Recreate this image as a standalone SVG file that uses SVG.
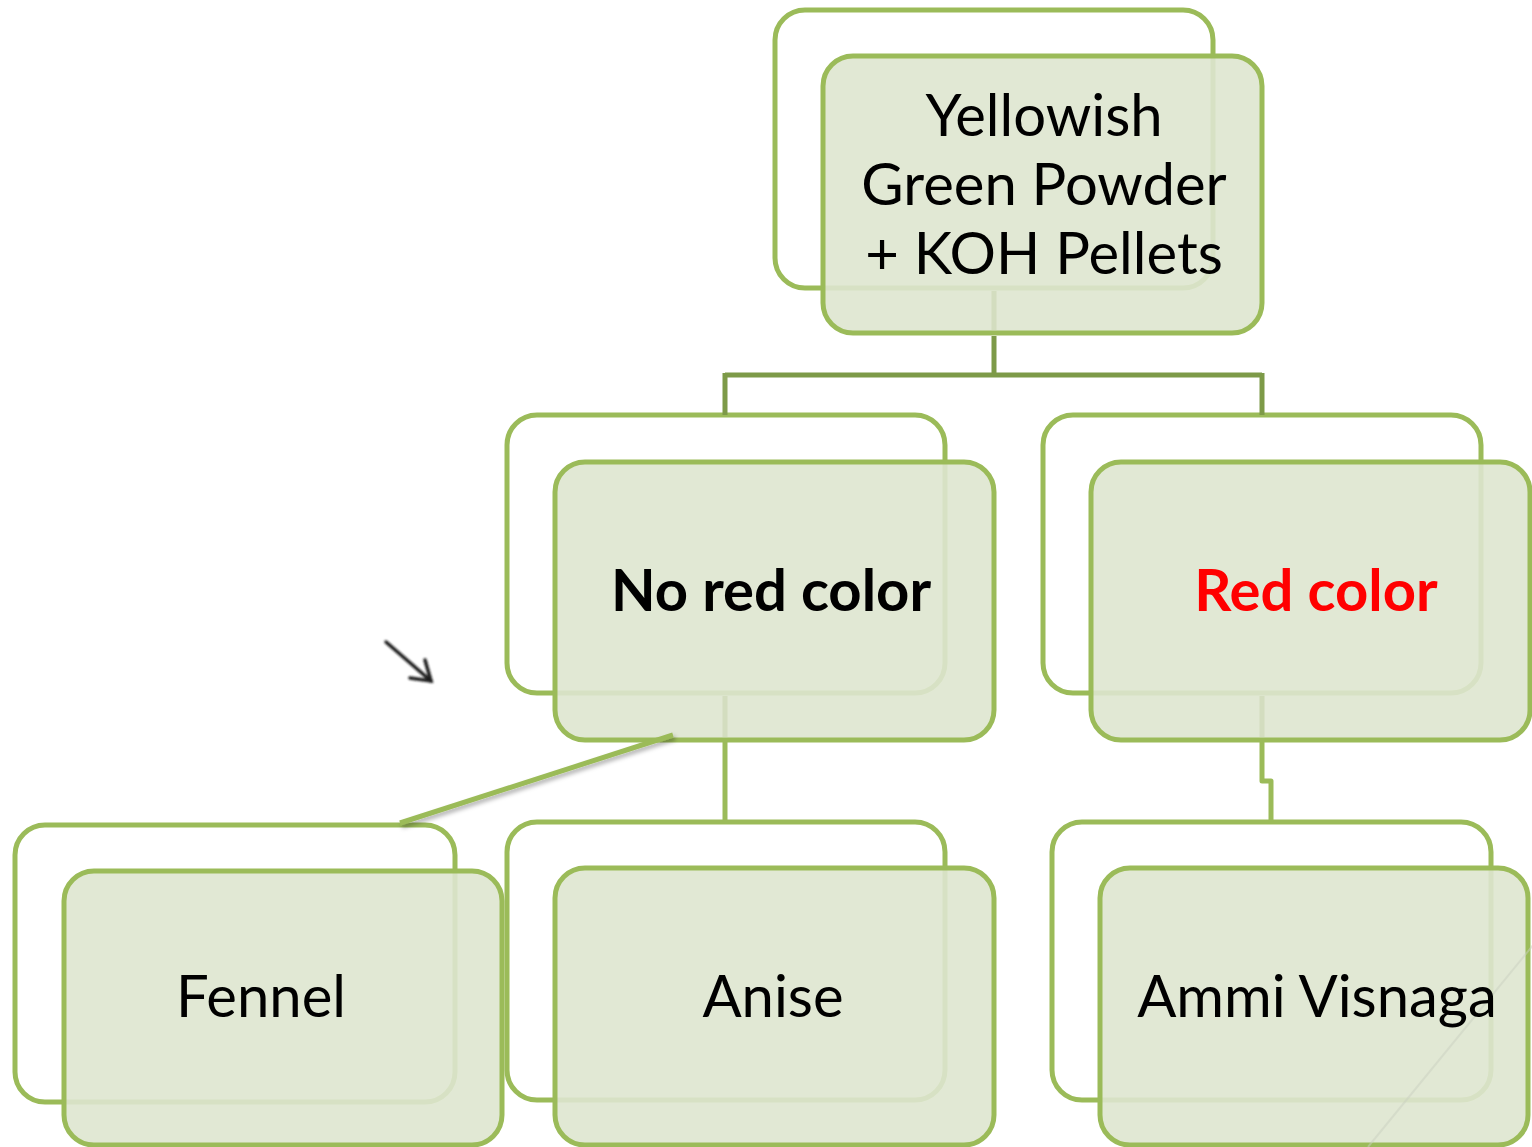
<svg xmlns="http://www.w3.org/2000/svg" width="1532" height="1147" viewBox="0 0 1532 1147">
  <style>
    .back { fill: none; stroke: #9bbb59; stroke-width: 5; }
    .front { fill: #dee6cf; fill-opacity: 0.9; stroke: #9bbb59; stroke-width: 5; }
    .lbl { font-family: Lato, "Noto Sans", "Liberation Sans", sans-serif; font-size: 58px; fill: #000; text-anchor: middle; }
    .bold { font-weight: bold; }
    .red { fill: #ff0000; }
    .conn { fill: none; stroke-width: 5; stroke-linejoin: round; }
    .trunk { stroke: #7d9a48; }
    .leaf { stroke: #9bbb59; }
    .faint { stroke: #d3ddbf; }
  </style>
  <defs>
    <filter id="soft" x="-20%" y="-20%" width="140%" height="140%">
      <feGaussianBlur stdDeviation="0.9"/>
    </filter>
    <filter id="shade" x="-10%" y="-50%" width="120%" height="200%">
      <feDropShadow dx="2" dy="3" stdDeviation="2" flood-color="#000" flood-opacity="0.3"/>
    </filter>
  </defs>

  <rect width="1532" height="1147" fill="#ffffff"/>

  <g id="node-root">
    <rect class="back" x="775" y="10" width="438" height="278" rx="30"/>
    <rect class="front" x="823" y="56" width="439" height="277" rx="30"/>
    <text class="lbl" x="1044" y="136">Yellowish</text>
    <text class="lbl" x="1044" y="205">Green Powder</text>
    <text class="lbl" x="1044" y="274">+ KOH Pellets</text>
  </g>

  <g id="node-no-red">
    <rect class="back" x="507" y="415" width="438" height="278" rx="30"/>
    <rect class="front" x="555" y="462" width="439" height="278" rx="30"/>
    <text class="lbl bold" x="771" y="611">No red color</text>
  </g>

  <g id="node-red">
    <rect class="back" x="1043" y="415" width="438" height="278" rx="30"/>
    <rect class="front" x="1091" y="462" width="439" height="278" rx="30"/>
    <text class="lbl bold red" x="1316" y="611">Red color</text>
  </g>

  <g id="node-fennel">
    <rect class="back" x="15" y="825" width="440" height="277" rx="30"/>
    <rect class="front" x="64" y="871" width="438" height="274" rx="30"/>
    <text class="lbl" x="261" y="1017">Fennel</text>
  </g>

  <g id="node-anise">
    <rect class="back" x="507" y="822" width="438" height="278" rx="30"/>
    <rect class="front" x="555" y="868" width="439" height="277" rx="30"/>
    <text class="lbl" x="773" y="1017">Anise</text>
  </g>

  <g id="node-ammi">
    <rect class="back" x="1052" y="822" width="439" height="278" rx="30"/>
    <rect class="front" x="1100" y="868" width="428" height="277" rx="30"/>
    <line x1="1534" y1="944" x2="1368" y2="1147" stroke="#c9cfc0" stroke-width="2" stroke-opacity="0.5"/>
    <text class="lbl" x="1317" y="1017">Ammi Visnaga</text>
  </g>

  <g id="connectors">
    <!-- root to first level -->
    <path class="conn faint" d="M994 291 V330"/>
    <path class="conn trunk" d="M994 336 V375 M725 375 H1262 M725 373 V415 M1262 373 V415"/>
    <!-- no red color to its children -->
    <path class="conn faint" d="M725 696 V737"/>
    <path class="conn leaf" d="M725 742 V822"/>
    <path class="conn leaf" filter="url(#shade)" d="M673 735 L400 823"/>
    <!-- red color to ammi visnaga -->
    <path class="conn faint" d="M1262 696 V737"/>
    <path class="conn leaf" d="M1262 742 V781 H1271 V822"/>
  </g>

  <!-- small pointer arrow -->
  <g filter="url(#soft)" stroke="#1a1a1a" stroke-width="3.5" fill="none" stroke-linecap="round">
    <line x1="386" y1="642" x2="431" y2="681"/>
    <path d="M425 660 L431 681 L410 678"/>
  </g>
</svg>
